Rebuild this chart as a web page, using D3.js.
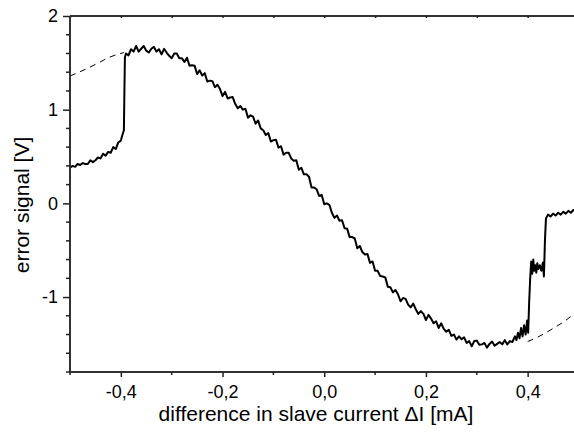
<!DOCTYPE html>
<html>
<head>
<meta charset="utf-8">
<script src="https://cdn.jsdelivr.net/npm/d3@7"></script>
<style>
  body { margin: 0; background: #fff; }
  svg { display: block; font-family: "Liberation Sans", Arial, sans-serif; }
</style>
</head>
<body>
<div id="chart"></div>
<script>
// measured error signal, [current mA, signal V]
var signal = [
  [-0.500,0.38],[-0.495,0.40],[-0.490,0.39],[-0.485,0.42],[-0.480,0.41],[-0.475,0.43],
  [-0.470,0.42],[-0.465,0.42],[-0.460,0.46],[-0.455,0.44],[-0.450,0.46],[-0.445,0.49],
  [-0.440,0.48],[-0.435,0.53],[-0.430,0.51],[-0.425,0.55],[-0.420,0.54],[-0.415,0.60],
  [-0.410,0.58],[-0.405,0.65],[-0.400,0.67],[-0.397,0.73],[-0.394,0.78],[-0.393,1.20],
  [-0.392,1.56],[-0.390,1.60],[-0.385,1.58],[-0.380,1.645],[-0.375,1.62],[-0.370,1.68],
  [-0.365,1.62],[-0.360,1.65],[-0.355,1.68],[-0.350,1.63],[-0.345,1.61],[-0.340,1.65],
  [-0.335,1.67],[-0.330,1.62],[-0.325,1.645],[-0.320,1.59],[-0.315,1.65],[-0.310,1.61],
  [-0.305,1.575],[-0.300,1.55],[-0.295,1.60],[-0.290,1.60],[-0.285,1.55],[-0.280,1.55],
  [-0.275,1.51],[-0.270,1.555],[-0.265,1.47],[-0.260,1.475],[-0.255,1.47],[-0.250,1.38],
  [-0.245,1.42],[-0.240,1.365],[-0.235,1.39],[-0.230,1.30],[-0.225,1.31],[-0.220,1.305],
  [-0.215,1.24],[-0.210,1.265],[-0.205,1.22],[-0.200,1.145],[-0.195,1.19],[-0.190,1.12],
  [-0.185,1.13],[-0.180,1.135],[-0.175,1.06],[-0.170,1.015],[-0.165,1.04],[-0.160,1.00],
  [-0.155,1.01],[-0.150,0.915],[-0.145,0.94],[-0.140,0.925],[-0.135,0.85],[-0.130,0.885],
  [-0.125,0.80],[-0.120,0.78],[-0.115,0.73],[-0.110,0.75],[-0.105,0.66],[-0.100,0.675],
  [-0.095,0.68],[-0.090,0.595],[-0.085,0.61],[-0.080,0.52],[-0.075,0.54],[-0.070,0.54],
  [-0.065,0.48],[-0.060,0.455],[-0.055,0.46],[-0.050,0.36],[-0.045,0.38],[-0.040,0.31],
  [-0.035,0.31],[-0.030,0.285],[-0.025,0.17],[-0.020,0.17],[-0.015,0.15],[-0.010,0.08],
  [-0.005,0.09],[0.000,-0.01],[0.005,0.00],[0.010,-0.015],[0.015,-0.10],[0.020,-0.155],
  [0.025,-0.13],[0.030,-0.185],[0.035,-0.18],[0.040,-0.265],[0.045,-0.27],[0.050,-0.36],
  [0.055,-0.36],[0.060,-0.375],[0.065,-0.48],[0.070,-0.455],[0.075,-0.52],[0.080,-0.545],
  [0.085,-0.54],[0.090,-0.635],[0.095,-0.62],[0.100,-0.72],[0.105,-0.72],[0.110,-0.775],
  [0.115,-0.78],[0.120,-0.79],[0.125,-0.89],[0.130,-0.895],[0.135,-0.95],[0.140,-0.925],
  [0.145,-0.97],[0.150,-1.045],[0.155,-1.01],[0.160,-1.02],[0.165,-1.08],[0.170,-1.11],
  [0.175,-1.07],[0.180,-1.13],[0.185,-1.18],[0.190,-1.15],[0.195,-1.18],[0.200,-1.245],
  [0.205,-1.19],[0.210,-1.23],[0.215,-1.28],[0.220,-1.26],[0.225,-1.33],[0.230,-1.28],
  [0.235,-1.34],[0.240,-1.37],[0.245,-1.35],[0.250,-1.415],[0.255,-1.40],[0.260,-1.455],
  [0.265,-1.42],[0.270,-1.45],[0.275,-1.43],[0.280,-1.49],[0.285,-1.47],[0.290,-1.525],
  [0.295,-1.47],[0.300,-1.465],[0.305,-1.51],[0.310,-1.505],[0.315,-1.49],[0.320,-1.54],
  [0.325,-1.50],[0.330,-1.475],[0.335,-1.52],[0.340,-1.50],[0.345,-1.48],[0.350,-1.505],
  [0.355,-1.46],[0.360,-1.505],[0.365,-1.47],[0.370,-1.48],[0.375,-1.42],[0.378,-1.46],
  [0.381,-1.38],[0.384,-1.44],[0.387,-1.33],[0.390,-1.42],[0.393,-1.30],[0.396,-1.40],
  [0.399,-1.25],[0.401,-1.38],[0.403,-1.05],[0.405,-0.80],[0.407,-0.62],[0.409,-0.75],
  [0.411,-0.60],[0.413,-0.72],[0.415,-0.66],[0.417,-0.74],[0.419,-0.64],[0.421,-0.70],
  [0.424,-0.66],[0.427,-0.72],[0.430,-0.63],[0.432,-0.78],[0.434,-0.40],[0.436,-0.16],
  [0.440,-0.12],[0.445,-0.14],[0.450,-0.11],[0.455,-0.13],[0.460,-0.10],[0.465,-0.12],
  [0.470,-0.09],[0.475,-0.11],[0.480,-0.08],[0.485,-0.10],[0.490,-0.07],[0.495,-0.09]
];

// fitted curve (dashed), only the parts that show beside the measurement
var fitLeftX  = [-0.500, -0.470, -0.444, -0.424, -0.394];
var fitLeftY  = [1.36, 1.43, 1.50, 1.556, 1.61];
var fitRightX = [0.400, 0.4225, 0.4454, 0.4926, 0.500];
var fitRightY = [-1.475, -1.42, -1.35, -1.17, -1.13];

var xMajor = [-0.4,-0.2,0.0,0.2,0.4];
var xMinor = [-0.5,-0.3,-0.1,0.1,0.3,0.5];
var yMajor = [-1,0,1,2];
var yMinor = [-1.8,-1.6,-1.4,-1.2,-0.8,-0.6,-0.4,-0.2,0.2,0.4,0.6,0.8,1.2,1.4,1.6,1.8];

(function(){
  var W = 574, H = 434;
  var mLeft = 70, mTop = 16, plotW = 508.5, mBottom = 372;

  var svg = d3.select("#chart").append("svg")
      .attr("width", W).attr("height", H);

  var x = d3.scaleLinear().domain([-0.5, 0.5]).range([mLeft, mLeft + plotW]);
  var y = d3.scaleLinear().domain([-1.8, 2]).range([mBottom, mTop]);

  var fmt = function(d){ return d3.format(".1f")(d).replace(".", ",").replace("\u2212", "-"); };

  var line = d3.line().x(function(d){ return x(d[0]); }).y(function(d){ return y(d[1]); });
  var lineCurve = d3.line().curve(d3.curveMonotoneX)
      .x(function(d){ return x(d[0]); }).y(function(d){ return y(d[1]); });

  // dashed fit, two visible pieces
  [[fitLeftX, fitLeftY], [fitRightX, fitRightY]].forEach(function(s){
    var pts = s[0].map(function(d, i){ return [d, s[1][i]]; });
    svg.append("path").datum(pts)
        .attr("d", lineCurve)
        .attr("fill", "none").attr("stroke", "#000")
        .attr("stroke-width", 1).attr("stroke-dasharray", "6,5");
  });

  svg.append("path").datum(signal)
      .attr("d", line)
      .attr("fill", "none").attr("stroke", "#000")
      .attr("stroke-width", 2).attr("stroke-linejoin", "round");

  // bottom axis
  var xAx = svg.append("g").attr("transform", "translate(0," + mBottom + ")")
      .call(d3.axisBottom(x).tickValues(xMajor).tickFormat(fmt).tickSize(5).tickPadding(8));
  xAx.append("g").selectAll("line").data(xMinor).enter().append("line")
      .attr("x1", function(d){ return x(d); }).attr("x2", function(d){ return x(d); })
      .attr("y1", 0).attr("y2", 3).attr("stroke", "#222").attr("stroke-width", 1.5);

  // top axis
  var tAx = svg.append("g").attr("transform", "translate(0," + mTop + ")")
      .call(d3.axisTop(x).tickValues(xMajor.concat(xMinor)).tickFormat("").tickSize(-2));

  // left axis
  var yAx = svg.append("g").attr("transform", "translate(" + mLeft + ",0)")
      .call(d3.axisLeft(y).tickValues(yMajor)
        .tickFormat(function(d){ return d < 0 ? "-" + Math.abs(d) : d; })
        .tickSize(7).tickPadding(5));
  yAx.append("g").selectAll("line").data(yMinor).enter().append("line")
      .attr("x1", 0).attr("x2", -4)
      .attr("y1", function(d){ return y(d); }).attr("y2", function(d){ return y(d); })
      .attr("stroke", "#222").attr("stroke-width", 1.5);

  [xAx, tAx, yAx].forEach(function(g){
    g.select(".domain").attr("stroke", "#333").attr("stroke-width", 2);
    g.selectAll(".tick line").attr("stroke", "#222").attr("stroke-width", 1.5);
    g.selectAll("text").attr("font-size", "18px").attr("fill", "#000")
      .attr("font-family", "'Liberation Sans', Arial, sans-serif");
  });
  tAx.select(".domain").attr("d", "M" + mLeft + ",0H" + (mLeft + plotW));
  xAx.select(".domain").attr("d", "M" + mLeft + ",0H" + (mLeft + plotW));
  yAx.select(".domain").attr("d", "M0," + mTop + "V" + mBottom);

  // axis titles
  svg.append("text")
      .attr("x", 316).attr("y", 421)
      .attr("text-anchor", "middle")
      .attr("font-size", "21px")
      .text("difference in slave current \u0394I [mA]");

  svg.append("text")
      .attr("transform", "translate(29,205) rotate(-90)")
      .attr("text-anchor", "middle")
      .attr("font-size", "21px")
      .text("error signal [V]");
})();
</script>
</body>
</html>
